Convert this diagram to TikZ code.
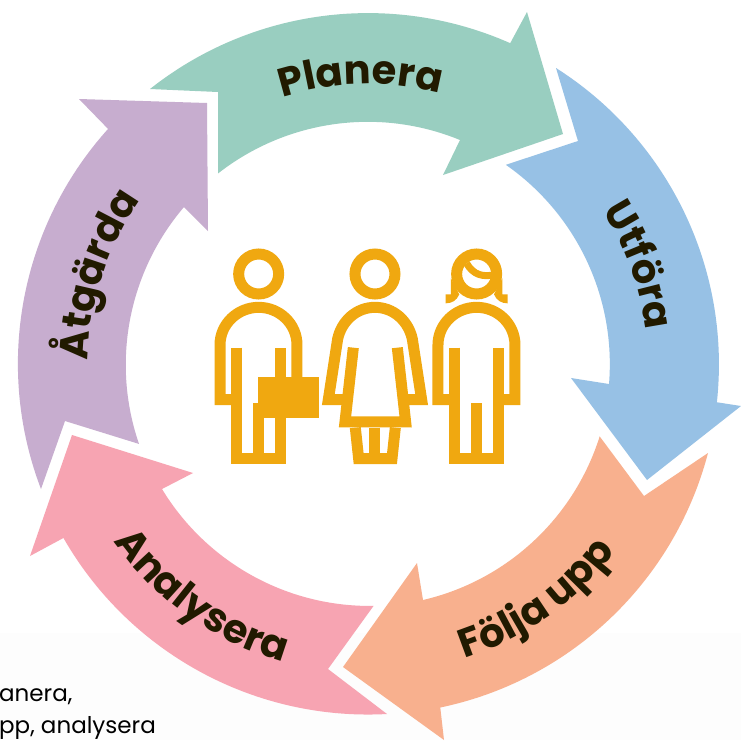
\documentclass[tikz,border=0pt]{standalone}
\usepackage{fontspec}
\usetikzlibrary{decorations.text}
\newfontfamily\lab{Poppins}
\definecolor{cPlan}{HTML}{99CEC0}
\definecolor{cUtf}{HTML}{97C1E5}
\definecolor{cFol}{HTML}{F8B08E}
\definecolor{cAna}{HTML}{F7A4B2}
\definecolor{cAtg}{HTML}{C7ADCF}
\definecolor{cIcon}{HTML}{F0A810}
\definecolor{cTxt}{HTML}{211A00}
\definecolor{cBand}{HTML}{FDFDFD}
\newcommand{\ringtext}[1]{|\lab\fontsize{40}{40}\selectfont\bfseries\color{cTxt}|#1}
\tikzset{
  ringlabel/.style={decorate,decoration={text along path,text align=center,text={\ringtext{#1}}}},
  stroke/.style={draw=cIcon,line width=11pt,line join=miter,line cap=butt}
}
\begin{document}
\begin{tikzpicture}[x=1pt,y=-1pt]
\useasboundingbox (0,0) rectangle (741,740);
\fill[white] (0,0) rectangle (741,740);
\fill[cBand] (0,633) rectangle (741,740);
\begin{scope}
\clip (0,0) rectangle (741,740);
% ring of arrows
\fill[cPlan] (150,89) arc[start angle=128.4,end angle=66.1,radius=351pt] -- (527,12) -- (563,134) -- (443,175) -- (460,140) arc[start angle=67.7,end angle=128,radius=243pt] -- (218,92) -- cycle;
\fill[cUtf] (556,68) arc[start angle=57.6,end angle=-6.2,radius=351pt] -- (741,406) -- (647,480) -- (571,378) -- (609,384) arc[start angle=-4.7,end angle=55.1,radius=243pt] -- (578,141) -- cycle;
\fill[cFol] (708,453) arc[start angle=-14.7,end angle=-78.2,radius=351pt] -- (444,740) -- (343,667) -- (417,563) -- (423,600) arc[start angle=-76.9,end angle=-17.5,radius=243pt] -- (644,496) -- cycle;
\fill[cAna] (387,714) arc[start angle=273.1,end angle=209.8,radius=351pt] -- (30,556) -- (72,435) -- (193,473) -- (162,489) arc[start angle=211.25,end angle=270.9,radius=243pt] -- (328,669) -- cycle;
\fill[cAtg] (41,489) arc[start angle=200.9,end angle=138,radius=351pt] -- (79,99) -- (207,103) -- (208,231) -- (184,207) arc[start angle=139.5,end angle=199,radius=243pt] -- (65,421) -- cycle;
\end{scope}
% ring labels
\coordinate (c) at (368,364);
\path[ringlabel={Planera}] (c) ++(121.5:280pt) arc[start angle=121.5,end angle=61.5,radius=280pt];
\path[ringlabel={Utföra}] (c) ++(52:280pt) arc[start angle=52,end angle=-12,radius=280pt];
\path[ringlabel={Följa upp}] (c) ++(-92:310pt) arc[start angle=-92,end angle=-17,radius=310pt];
\path[ringlabel={Analysera}] (c) ++(197:310pt) arc[start angle=197,end angle=272,radius=310pt];
\path[ringlabel={Åtgärda}] (c) ++(198:280pt) arc[start angle=198,end angle=125.4,radius=280pt];
% people
\begin{scope}[x=0.3333pt,y=-0.3333pt,shift={(200pt,-235pt)}]
% man
\draw[stroke] (176,117) circle[radius=20pt];
\draw[stroke] (110,338) -- (110,671) -- (242,671) -- (242,338);
\draw[stroke] (110,494) -- (60,494) -- (60,330) .. controls (60,267) and (113,217) .. (176,217) .. controls (239,217) and (291,267) .. (291,330) -- (291,435);
\draw[stroke] (176,505) -- (176,671);
\fill[cIcon] (175,427) rectangle (358,548);
\fill[cIcon] (159,505) rectangle (192,548);
% woman in dress
\draw[stroke] (525,117) circle[radius=20pt];
\draw[stroke] (460,338) -- (435,561) -- (617,561) -- (592,338);
\draw[stroke] (440,494) -- (385,494) -- (413,312) .. controls (425,257) and (470,217) .. (525,217) .. controls (580,217) and (625,257) .. (637,312) -- (665,494) -- (612,494);
\draw[stroke] (466,578) -- (476,671) -- (576,671) -- (586,578);
\draw[stroke] (525,578) -- (525,671);
% woman with hair
\draw[stroke] (830,117) circle[radius=20pt];
\draw[cIcon,line width=7pt] (800,85) .. controls (820,120) and (850,128) .. (888,118);
\fill[cIcon] (753,130) -- (753,178) -- (737,178) -- (737,205) .. controls (755,205) and (770,197) .. (778,178) -- cycle;
\fill[cIcon] (907,130) -- (907,178) -- (923,178) -- (923,205) .. controls (905,205) and (890,197) .. (882,178) -- cycle;
\draw[stroke] (764,338) -- (764,671) -- (896,671) -- (896,338);
\draw[stroke] (764,494) -- (714,494) -- (714,330) .. controls (714,267) and (767,217) .. (830,217) .. controls (893,217) and (945,267) .. (945,330) -- (945,494) -- (896,494);
\draw[stroke] (830,505) -- (830,671);
\end{scope}
% caption fragments
\node[anchor=base west,inner sep=0pt,font=\lab\fontsize{23}{23}\selectfont,text=black] (capa) at (-1,701) {anera,};
\node[anchor=base west,inner sep=0pt,font=\lab\fontsize{23}{23}\selectfont,text=black] (capb) at (-1,733) {pp, analysera};
\end{tikzpicture}
\end{document}
